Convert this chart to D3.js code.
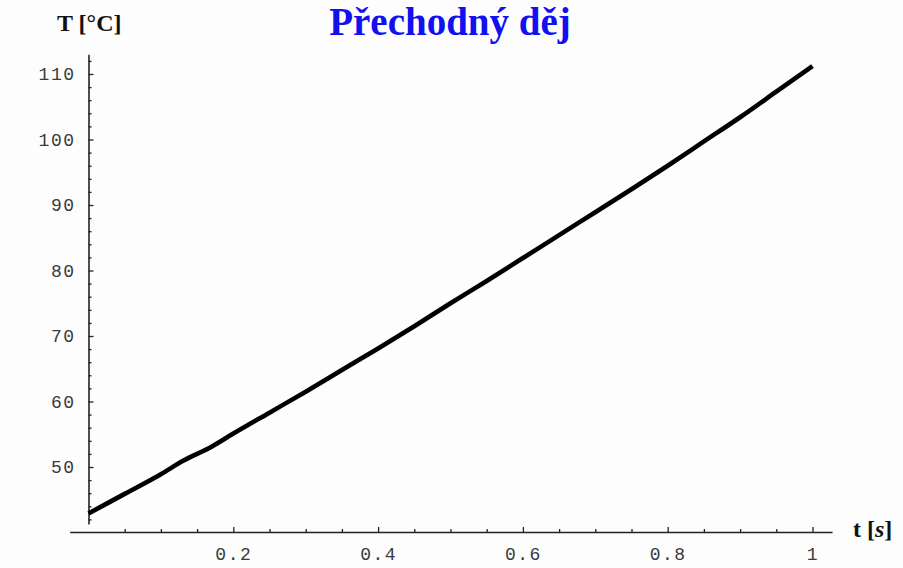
<!DOCTYPE html>
<html>
<head>
<meta charset="utf-8">
<script src="https://cdn.jsdelivr.net/npm/d3@7.9.0/dist/d3.min.js"></script>
<style>
  body { margin: 0; background: #fcfdfc; }
  svg { display: block; }
  .tick text { font-family: "Liberation Mono", monospace; font-size: 18px; fill: #3a3a3a; letter-spacing: 1.5px; }
</style>
</head>
<body>
<svg id="chart" width="903" height="568"></svg>
<script>
// time [s] and temperature [°C]
const times = [0, 0.05, 0.1, 0.13, 0.17, 0.2, 0.25, 0.3, 0.35, 0.4, 0.45, 0.5,
  0.55, 0.6, 0.65, 0.7, 0.75, 0.8, 0.85, 0.9, 0.95, 1.0];
const temps = [42.9, 45.9, 48.9, 50.9, 53.1, 55.1, 58.3, 61.5, 64.8, 68.1, 71.5, 75.0,
  78.4, 81.9, 85.4, 88.9, 92.4, 96.0, 99.7, 103.4, 107.3, 111.2];

const xTicks = [0.2, 0.4, 0.6, 0.8, 1];
const xMinorTicks = [0.05, 0.1, 0.15, 0.25, 0.3, 0.35, 0.45, 0.5, 0.55, 0.65, 0.7, 0.75, 0.85, 0.9, 0.95];
const yTicks = [50, 60, 70, 80, 90, 100, 110];
const yMinorTicks = [42, 44, 46, 48, 52, 54, 56, 58, 62, 64, 66, 68, 72, 74, 76, 78,
  82, 84, 86, 88, 92, 94, 96, 98, 102, 104, 106, 108, 112];

const svg = d3.select('#chart');

// scales
let x = d3.scaleLinear().domain([0, 1]).range([88.5, 812.5]);
let y = d3.scaleLinear().domain([50, 110]).range([467, 74]);

// axes stretch a bit past the data like the original
let xAxisScale = x.copy().domain([-0.026, 1.027]).range([x(-0.026), x(1.027)]);
let yAxisScale = y.copy().domain([41.3, 113]).range([y(41.3), y(113)]);
const xAxisY = 532;
const yAxisX = x(0);

// x axis
svg.append('g')
  .attr('transform', `translate(0,${xAxisY})`)
  .call(d3.axisBottom(xAxisScale).tickValues(xMinorTicks).tickSize(-3).tickSizeOuter(0).tickFormat(''))
  .call(g => g.select('.domain').remove());
svg.append('g')
  .attr('transform', `translate(0,${xAxisY})`)
  .call(d3.axisBottom(xAxisScale).tickValues(xTicks).tickSize(-5).tickSizeOuter(0)
    .tickPadding(15).tickFormat(d3.format('~g')));

// y axis
svg.append('g')
  .attr('transform', `translate(${yAxisX},0)`)
  .call(d3.axisLeft(yAxisScale).tickValues(yMinorTicks).tickSize(-3).tickSizeOuter(0).tickFormat(''))
  .call(g => g.select('.domain').remove());
svg.append('g')
  .attr('transform', `translate(${yAxisX},0)`)
  .call(d3.axisLeft(yAxisScale).tickValues(yTicks).tickSize(-5).tickSizeOuter(0).tickPadding(13));

svg.selectAll('.domain').attr('stroke', '#222').attr('stroke-width', 1.6);
svg.selectAll('.tick line').attr('stroke', '#222').attr('stroke-width', 1.3);

// curve
let line = d3.line()
  .x((d, i) => x(times[i]))
  .y(d => y(d))
  .curve(d3.curveMonotoneX);

svg.append('path')
  .attr('d', line(temps))
  .attr('fill', 'none')
  .attr('stroke', '#000')
  .attr('stroke-width', 4.6);

// title and axis labels
svg.append('text')
  .attr('x', 450).attr('y', 35)
  .attr('text-anchor', 'middle')
  .attr('font-family', 'Liberation Serif, serif')
  .attr('font-weight', 'bold')
  .attr('font-size', 39)
  .attr('fill', '#1010f0')
  .text('Přechodný děj');

svg.append('text')
  .attr('x', 57).attr('y', 31)
  .attr('font-family', 'Liberation Serif, serif')
  .attr('font-weight', 'bold')
  .attr('font-size', 24)
  .attr('fill', '#111')
  .text('T [°C]');

let tLabel = svg.append('text')
  .attr('x', 853).attr('y', 537)
  .attr('font-family', 'Liberation Serif, serif')
  .attr('font-weight', 'bold')
  .attr('font-size', 24)
  .attr('fill', '#111');
tLabel.append('tspan').text('t [');
tLabel.append('tspan').attr('font-style', 'italic').text('s');
tLabel.append('tspan').text(']');
</script>
</body>
</html>
